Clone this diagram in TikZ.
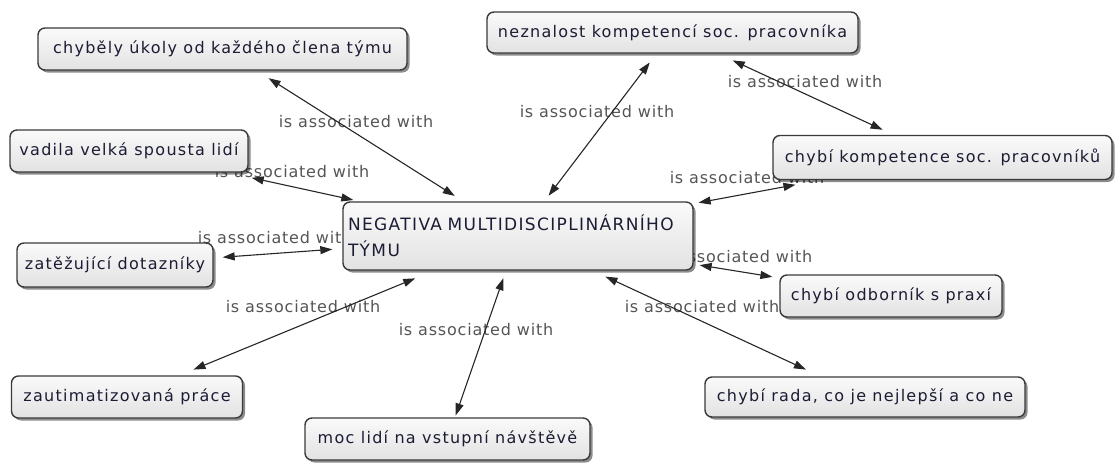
\documentclass[tikz,border=0pt]{standalone}
\usepackage{fontspec}
\setmainfont{DejaVu Sans}
\newfontfamily\conceptfont{DejaVu Sans}[LetterSpace=8]
\newfontfamily\linkfont{DejaVu Sans}[LetterSpace=5]
\usetikzlibrary{arrows.meta,shadows}
\definecolor{frameink}{HTML}{3A3A3A}
\definecolor{boxtop}{HTML}{FAFAFA}
\definecolor{boxbottom}{HTML}{E2E2E2}
\definecolor{conceptink}{HTML}{1C1C34}
\definecolor{linkink}{HTML}{555555}
\pgfdeclarelayer{under}
\pgfsetlayers{under,main}
\begin{document}
\begin{tikzpicture}[x=1pt,y=-1pt,
  concept/.style={draw=frameink, line width=1.4pt, rounded corners=7pt,
    top color=boxtop, bottom color=boxbottom,
    drop shadow={shadow xshift=2.5pt, shadow yshift=-2.5pt, fill=black, opacity=0.45},
    text=conceptink, font=\conceptfont\fontsize{16}{20}\selectfont, inner sep=0pt},
  linklabel/.style={text=linkink, font=\linkfont\fontsize{16}{19}\selectfont, inner sep=0pt},
  assoc/.style={{Triangle[length=12pt,width=8pt]}-{Triangle[length=12pt,width=8pt]},
    line width=1.1pt, draw=black!85}
]
\useasboundingbox (0,0) rectangle (1117,463);

% concepts
\node[concept, minimum width=350pt, minimum height=68pt, text width=340pt,
      align=left, font=\conceptfont\fontsize{17}{26}\selectfont] (core) at (518,236)
      {NEGATIVA MULTIDISCIPLINÁRNÍHO\\TÝMU};
\node[concept, minimum width=369pt, minimum height=42pt] (chyb) at (222.5,49) {chyběly úkoly od každého člena týmu};
\node[concept, minimum width=371pt, minimum height=41pt] (nez) at (672.5,32.5) {neznalost kompetencí soc. pracovníka};
\node[concept, minimum width=339pt, minimum height=44pt] (komp) at (942.5,157.5) {chybí kompetence soc. pracovníků};
\node[concept, minimum width=222pt, minimum height=42pt] (odb) at (891,296) {chybí odborník s praxí};
\node[concept, minimum width=238pt, minimum height=42pt] (vad) at (129,151) {vadila velká spousta lidí};
\node[concept, minimum width=196pt, minimum height=44pt] (zat) at (115,265) {zatěžující dotazníky};
\node[concept, minimum width=231pt, minimum height=42pt] (zaut) at (127,397) {zautimatizovaná práce};
\node[concept, minimum width=285pt, minimum height=42pt] (moc) at (447.5,439) {moc lidí na vstupní návštěvě};
\node[concept, minimum width=320pt, minimum height=40pt] (rada) at (865,397) {chybí rada, co je nejlepší a co ne};

\begin{pgfonlayer}{under}
  % link labels
  \node[linklabel] (l1) at (356,122) {is associated with};
  \node[linklabel] (l2) at (292,172) {is associated with};
  \node[linklabel] (l3) at (275,238) {is associated with};
  \node[linklabel] (l4) at (303,307) {is associated with};
  \node[linklabel] (l5) at (476,330) {is associated with};
  \node[linklabel] (l6) at (702,307) {is associated with};
  \node[linklabel] (l7) at (735,257) {is associated with};
  \node[linklabel] (l8) at (747,178) {is associated with};
  \node[linklabel] (l9) at (597,112) {is associated with};
  \node[linklabel] (l10) at (805,82) {is associated with};
  % associations
  \draw[assoc, shorten <=14pt, shorten >=10pt] (chyb) -- (core);
  \draw[assoc, shorten <=24pt, shorten >=6pt] (vad) -- (core);
  \draw[assoc, shorten <=9pt, shorten >=10pt] (zat) -- (core);
  \draw[assoc, shorten <=15pt, shorten >=20pt] (zaut) -- (core);
  \draw[assoc, shorten <=2pt, shorten >=8pt] (moc) -- (core);
  \draw[assoc, shorten <=16pt, shorten >=14pt] (rada) -- (core);
  \draw[assoc, shorten <=7pt, shorten >=6pt] (odb) -- (core);
  \draw[assoc, shorten <=25pt, shorten >=5pt] (komp) -- (core);
  \draw[assoc, shorten <=11pt, shorten >=7pt] (nez) -- (core);
  \draw[assoc, shorten <=16pt, shorten >=12pt] (nez) -- (komp);
\end{pgfonlayer}
\end{tikzpicture}
\end{document}
